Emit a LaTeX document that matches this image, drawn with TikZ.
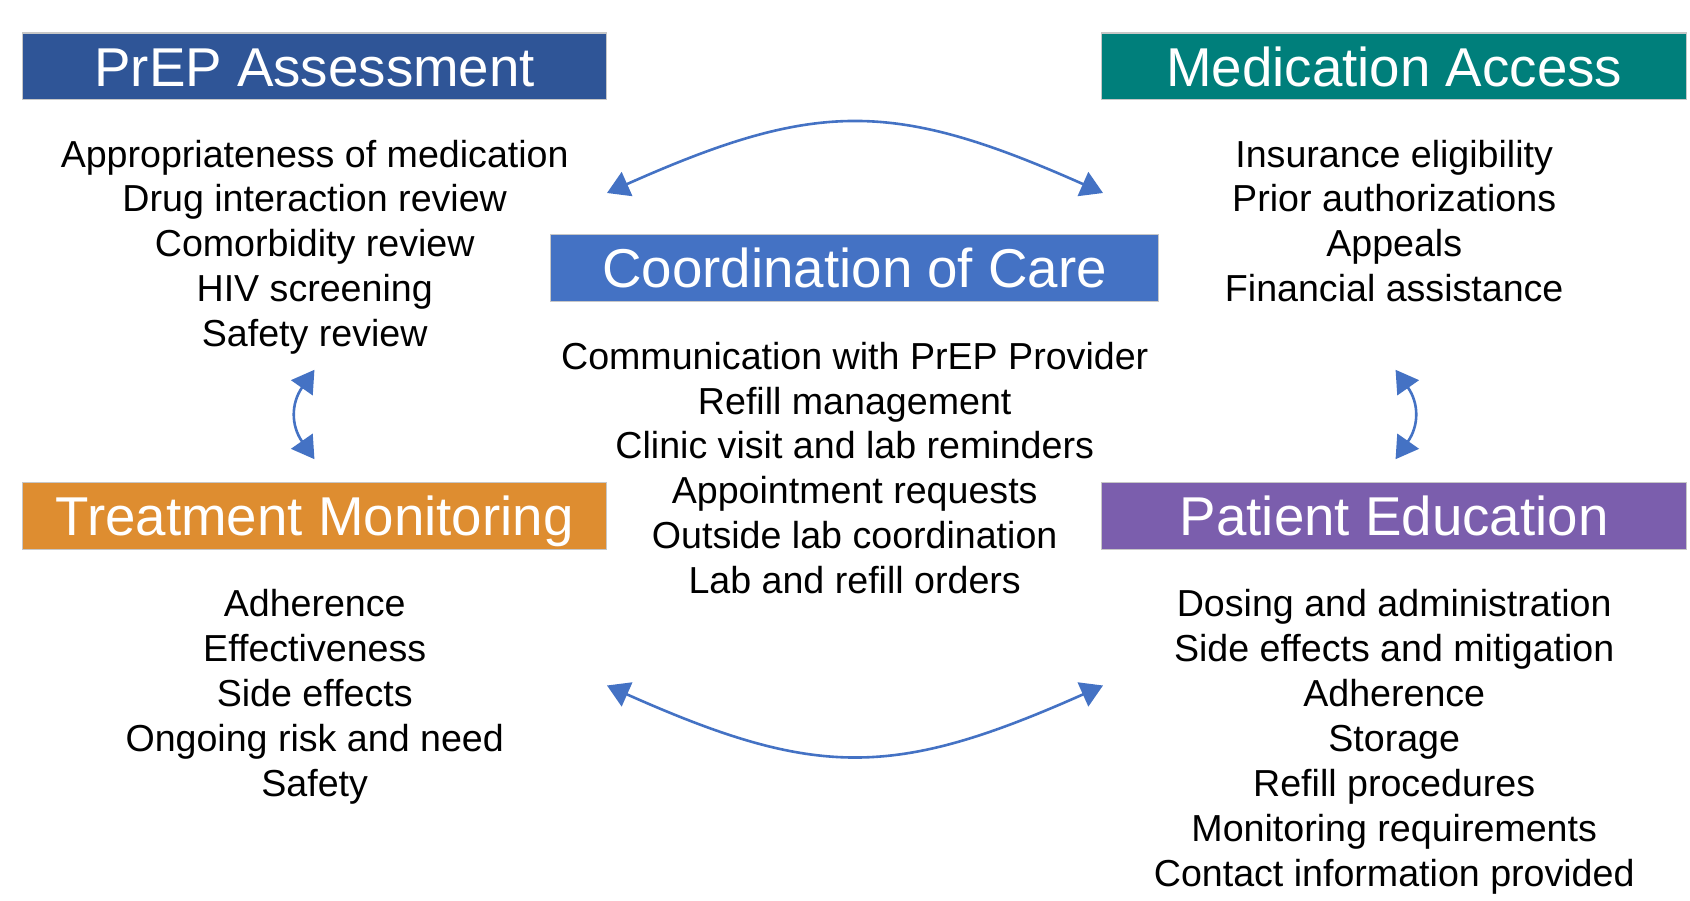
\documentclass[tikz,border=0pt]{standalone}
\usepackage{fontspec}
\setmainfont{Liberation Sans}
\usetikzlibrary{arrows.meta}

\definecolor{assessblue}{HTML}{2F5597}
\definecolor{accessteal}{HTML}{007F7B}
\definecolor{careblue}{HTML}{4472C4}
\definecolor{monitororange}{HTML}{DE8D30}
\definecolor{educpurple}{HTML}{7B5EAD}
\definecolor{linkblue}{HTML}{4472C4}

\tikzset{
  header/.style={draw=black!22, line width=1.2pt, text=white,
    minimum height=66.8pt, inner sep=0pt,
    text height=39.4pt, text depth=0pt,
    font=\fontsize{54.7}{60}\selectfont},
  item/.style={anchor=base, inner sep=0pt, text=black,
    font=\fontsize{37.6}{44}\selectfont},
  link/.style={draw=linkblue, line width=2.6pt,
    {Triangle[length=22pt,width=26pt]}-{Triangle[length=22pt,width=26pt]}},
  % short arcs: drawn between the tip bases, tips placed beyond them
  shortlink/.style={link, shorten <=-21pt, shorten >=-21pt}
}

\begin{document}
\begin{tikzpicture}[x=1pt,y=1pt]
  \fill[white] (0,0) rectangle (1690,900);
  \useasboundingbox (0,0) rectangle (1690,900);

  % section headers
  \node[header, fill=assessblue, minimum width=584.2pt] (assess) at (314.7,833.6) {PrEP Assessment};
  \node[header, fill=accessteal, minimum width=585.3pt] (access) at (1394.2,833.6) {Medication Access};
  \node[header, fill=careblue, minimum width=607.8pt] (care) at (854.7,632.0) {Coordination of Care};
  \node[header, fill=monitororange, minimum width=584.2pt] (monitor) at (314.7,384.1) {Treatment Monitoring};
  \node[header, fill=educpurple, minimum width=585.3pt] (educ) at (1394.2,384.1) {Patient Education};

  % PrEP assessment items
  \foreach \t [count=\i] in {Appropriateness of medication, Drug interaction review,
      Comorbidity review, HIV screening, Safety review}
    \node[item] (assess\i) at (314.7, 732.9-44.9*\i+44.9) {\t};

  % medication access items
  \foreach \t [count=\i] in {Insurance eligibility, Prior authorizations,
      Appeals, Financial assistance}
    \node[item] (access\i) at (1394.2, 732.9-44.9*\i+44.9) {\t};

  % coordination of care items
  \foreach \t [count=\i] in {Communication with PrEP Provider, Refill management,
      Clinic visit and lab reminders, Appointment requests,
      Outside lab coordination, Lab and refill orders}
    \node[item] (care\i) at (854.7, 530.8-44.9*\i+44.9) {\t};

  % treatment monitoring items
  \foreach \t [count=\i] in {Adherence, Effectiveness, Side effects,
      Ongoing risk and need, Safety}
    \node[item] (monitor\i) at (314.7, 283.4-44.9*\i+44.9) {\t};

  % patient education items
  \foreach \t [count=\i] in {Dosing and administration, Side effects and mitigation,
      Adherence, Storage, Refill procedures, Monitoring requirements,
      Contact information provided}
    \node[item] (educ\i) at (1394.2, 283.4-44.9*\i+44.9) {\t};

  % ends of the curved two-way arrows
  \coordinate (topL) at (607,707);
  \coordinate (topR) at (1103,707);
  \coordinate (botL) at (607,214.5);
  \coordinate (botR) at (1103,214.5);
  \coordinate (leftT) at (302.4,513);
  \coordinate (leftB) at (302.4,458);
  \coordinate (rightT) at (1407.6,513);
  \coordinate (rightB) at (1407.6,458);

  \draw[link] (topL) .. controls +(24:229) and +(156:229) .. (topR);
  \draw[link] (botL) .. controls +(-24:229) and +(-156:229) .. (botR);
  \draw[shortlink] (leftT) .. controls +(235:20) and +(125:20) .. (leftB);
  \draw[shortlink] (rightT) .. controls +(-55:20) and +(55:20) .. (rightB);
\end{tikzpicture}
\end{document}
